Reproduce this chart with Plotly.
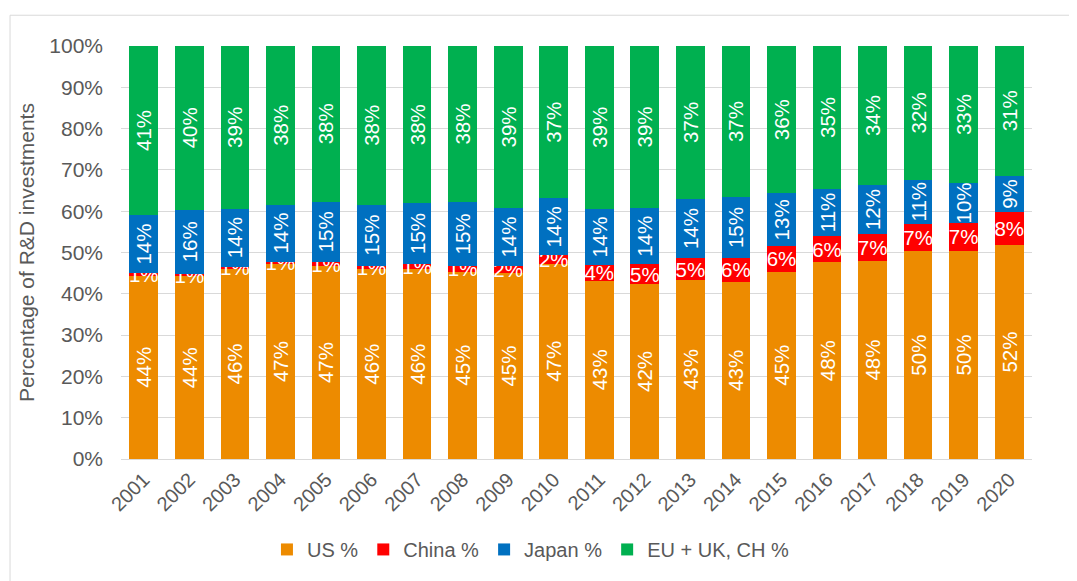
import plotly.graph_objects as go

years = [str(y) for y in range(2001, 2021)]
us = [44.4, 44.2, 46.0, 47.2, 46.7, 45.9, 45.9, 45.4, 45.0, 47.3, 43.2, 42.4, 43.3, 42.9, 45.4, 47.6, 47.9, 50.3, 50.4, 51.8]
china = [0.6, 0.6, 0.6, 0.6, 1.0, 0.9, 1.4, 1.4, 1.7, 2.0, 3.7, 4.7, 5.3, 5.8, 6.1, 6.4, 6.6, 6.7, 6.8, 7.9]
japan = [14.1, 15.6, 14.0, 13.8, 14.6, 14.8, 14.6, 15.4, 14.1, 13.8, 13.7, 13.7, 14.4, 14.7, 12.8, 11.4, 11.8, 10.6, 9.6, 8.9]
eu = [40.9, 39.6, 39.4, 38.4, 37.7, 38.4, 38.1, 37.8, 39.2, 36.9, 39.4, 39.2, 37.0, 36.6, 35.7, 34.6, 33.7, 32.4, 33.2, 31.4]

series = [
    ("US %", us, "#ED8B00", -90),
    ("China %", china, "#FF0000", 0),
    ("Japan %", japan, "#0070C0", -90),
    ("EU + UK, CH %", eu, "#00B050", -90),
]

FONT = "Liberation Sans, Arial, sans-serif"
GREY = "#595959"
fig = go.Figure()
for name, vals, color, ang in series:
    fig.add_trace(go.Bar(
        x=years, y=vals, name=name,
        marker=dict(color=color, line=dict(width=0)),
        texttemplate="%{y:.0f}%", textposition="inside",
        insidetextanchor="middle", textangle=ang, constraintext="none",
        insidetextfont=dict(color="white", size=20.5, family=FONT),
        cliponaxis=False,
    ))

# page body has an 8px margin, so the figure is sized/offset to compensate
fig.update_layout(
    barmode="stack", bargap=0.37,
    width=1069, height=573,
    margin=dict(l=113, r=45, t=38, b=119),
    paper_bgcolor="white", plot_bgcolor="white",
    font=dict(family=FONT, size=20, color=GREY),
    legend=dict(orientation="h", x=0.45, xanchor="center", y=-0.219, yanchor="middle",
                font=dict(size=20, color=GREY), traceorder="normal",
                itemwidth=30),
    xaxis=dict(tickangle=-45, showgrid=False, showline=True, linecolor="#D9D9D9",
               linewidth=1, ticks="", tickfont=dict(size=20, color=GREY)),
    yaxis=dict(range=[0, 100], dtick=10, ticksuffix="%", showgrid=True,
               gridcolor="#D9D9D9", gridwidth=1, zeroline=False,
               ticklabelstandoff=17,
               tickfont=dict(size=21, color=GREY),
               title=dict(text="Percentage of R&D investments",
                          font=dict(size=21, color=GREY), standoff=8)),
    shapes=[dict(type="rect", xref="paper", yref="paper",
                 x0=-0.1218, x1=1.1, y0=-0.35, y1=1.0745,
                 line=dict(color="#D9D9D9", width=1), fillcolor="rgba(0,0,0,0)",
                 layer="below")],
)

fig.write_html("out.html")
